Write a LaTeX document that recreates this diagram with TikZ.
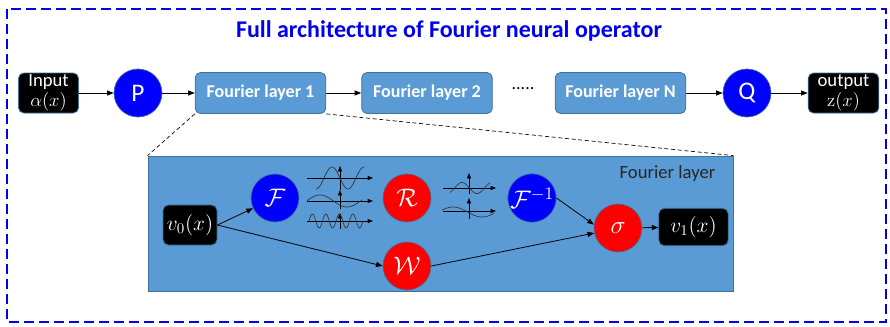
\RequirePackage{fix-cm}
\documentclass[tikz,border=0pt]{standalone}
\usepackage[no-math]{fontspec}
\setmainfont{Carlito}
\usetikzlibrary{arrows.meta}

\definecolor{layercol}{RGB}{91,155,213}
\definecolor{edgecol}{RGB}{65,113,156}
\definecolor{opblue}{RGB}{0,0,255}
\definecolor{opred}{RGB}{255,0,0}
\definecolor{titleblue}{RGB}{0,0,240}

\begin{document}
\begin{tikzpicture}[x=0.75pt, y=-0.75pt]
   \useasboundingbox (0,0) rectangle (890,326);
   \tikzstyle{conn}=[-{Triangle[length=5pt,width=3.8pt]}, line width=0.6pt]
   \tikzstyle{darkbox}=[rounded corners=4pt, fill=black, draw=edgecol, line width=0.6pt, text=white, align=center, inner sep=0.5pt, font=\fontsize{14}{14.5}\selectfont]
   \tikzstyle{layerbox}=[rounded corners=4pt, fill=layercol, draw=edgecol, line width=0.6pt, text=white, minimum width=98pt, minimum height=30.75pt, font=\bfseries\fontsize{13.5}{15}\selectfont]
   \tikzstyle{bluecirc}=[circle, fill=opblue, draw=edgecol, line width=0.5pt, minimum size=36pt, inner sep=0pt, text=white, font=\fontsize{19}{20}\selectfont]
   \tikzstyle{redcirc}=[bluecirc, fill=opred]
   \tikzstyle{axisline}=[-{Triangle[length=4pt,width=3pt]}, line width=0.5pt]
   \tikzstyle{wave}=[line width=0.5pt, black!80, smooth, samples=60]
   % outer frame and title
   \draw[titleblue, line width=1.2pt, dash pattern=on 7.5pt off 3.75pt] (7,9) rectangle (886,322);
   \node[text=titleblue, font=\bfseries\fontsize{18}{20}\selectfont] (title) at (449,31) {Full architecture of Fourier neural operator};
   % top row
   \node[darkbox, minimum width=45pt, minimum height=30pt] (input) at (48.5,93) {Input\\$\alpha(x)$};
   \node[bluecirc] (P) at (138,93) {P};
   \node[layerbox] (fl1) at (260.5,93) {Fourier layer 1};
   \node[layerbox] (fl2) at (427,93) {Fourier layer 2};
   \node[font=\fontsize{13.5}{15}\selectfont] (dots) at (523,89) {.....};
   \node[layerbox] (flN) at (620.5,93) {Fourier layer N};
   \node[bluecirc] (Q) at (747,93) {Q};
   \node[darkbox, minimum width=53pt, minimum height=30pt] (output) at (843.5,93) {output\\$\mathrm{z}(x)$};
   \foreach \a/\b in {input/P, P/fl1, fl1/fl2, flN/Q, Q/output} {
        \draw[conn] (\a) -- (\b);
   }
   % zoomed Fourier layer
   \node[fill=layercol, draw=edgecol, line width=0.6pt, minimum width=438.75pt, minimum height=101.25pt, inner sep=0pt] (layer) at (440.5,223.5) {};
   \draw[densely dashed, line width=0.5pt] (fl1.south west) -- (layer.north west);
   \draw[densely dashed, line width=0.5pt] (fl1.south east) -- (layer.north east);
   \node[text=black!85, font=\fontsize{14}{15}\selectfont] (layername) at (667.5,174) {Fourier layer};
   \node[darkbox, minimum width=40.5pt, minimum height=30pt, font=\fontsize{16}{16}\selectfont] (v0) at (190,225) {$v_0(x)$};
   \node[bluecirc] (F) at (275,198) {$\mathcal{F}$};
   \node[redcirc] (R) at (407,198) {$\mathcal{R}$};
   \node[bluecirc] (Finv) at (532,198) {$\mathcal{F}^{-1}$};
   \node[redcirc] (W) at (407,266) {$\mathcal{W}$};
   \node[redcirc] (sigma) at (618,228) {$\sigma$};
   \node[darkbox, minimum width=52pt, minimum height=28pt, font=\fontsize{16}{16}\selectfont] (v1) at (693.5,227) {$v_1(x)$};
   \draw[conn] (v0.east) -- (F);
   \draw[conn] (v0.east) -- (W.west);
   \draw[conn] (Finv.east) -- (sigma.172);
   \draw[conn] (W.east) -- (sigma.192);
   \draw[conn] (sigma) -- (v1);
   % spectra sketches
   \foreach \ya/\yb/\yc in {178/190/166, 201/209/190, 221/229/213} {
        \draw[axisline] (307,\ya) -- (373,\ya);
        \draw[axisline] (340,\yb) -- (340,\yc);
   }
   \draw[wave] plot[domain=316:364] (\x, {178+11*cos(11.25*(\x-316))});
   \draw[wave] plot[domain=307:362] (\x, {201-6*cos(6.667*(\x-320))});
   \draw[wave] plot[domain=309:363, samples=120] (\x, {221-7*sin(26.667*(\x-309))});
   \foreach \ya/\yb/\yc in {188/194/173, 211/219/198} {
        \draw[axisline] (443,\ya) -- (496,\ya);
        \draw[axisline] (469,\yb) -- (469,\yc);
   }
   \draw[wave] plot[domain=450:490] (\x, {188-5.5*cos(12*(\x-462))});
   \draw[wave] plot[domain=442:494] (\x, {212-5*cos(6.207*(\x-453))});
\end{tikzpicture}
\end{document}
